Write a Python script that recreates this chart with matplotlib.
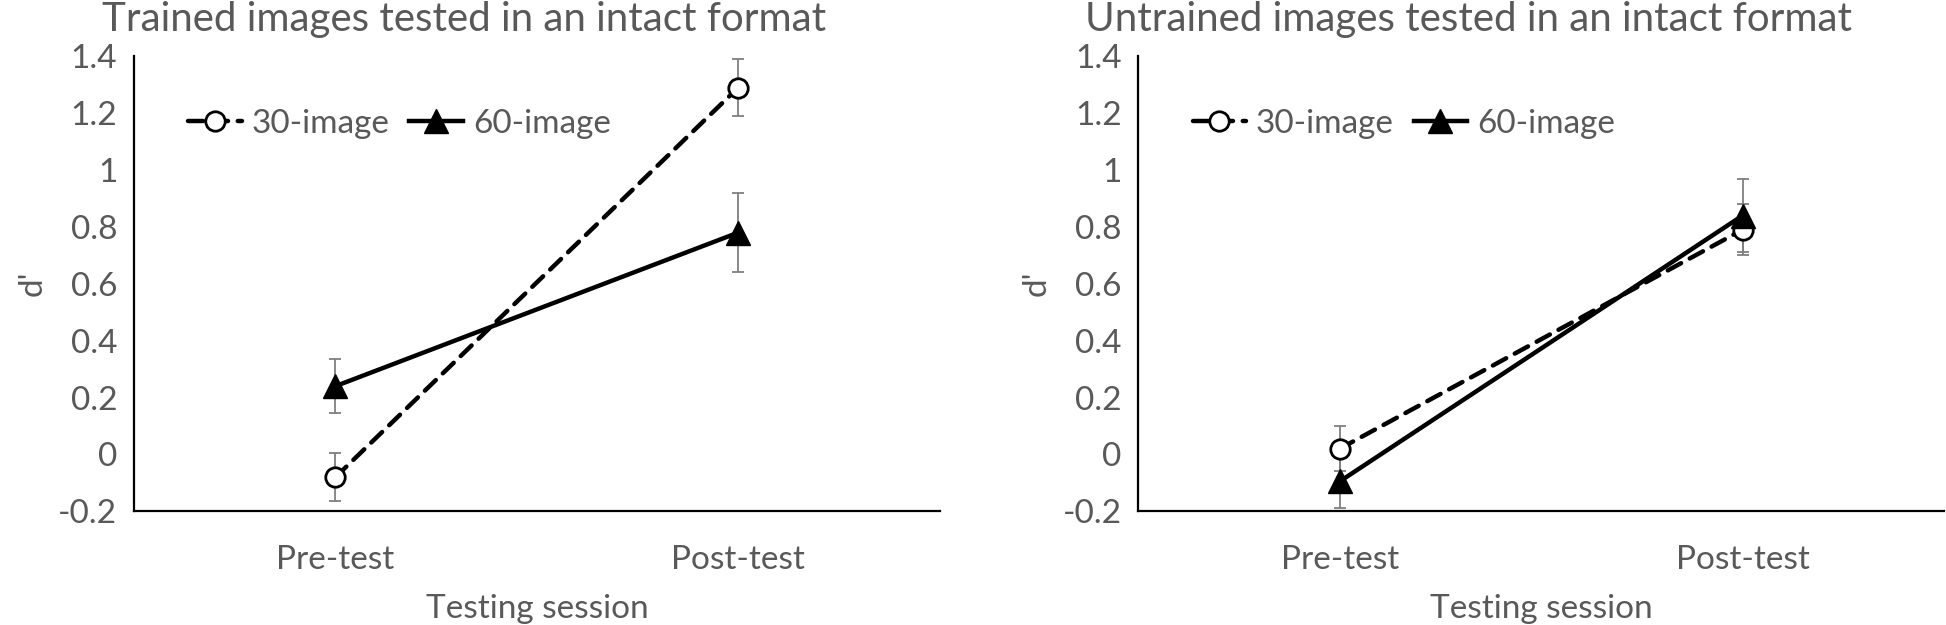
import matplotlib
matplotlib.use("Agg")
import matplotlib.pyplot as plt

plt.rcParams['font.family'] = ['Lato', 'DejaVu Sans']

# data
sessions = ["Pre-test", "Post-test"]
series = ["30-image", "60-image"]

trained_30 = [-0.08, 1.29]
trained_30_err = [0.085, 0.10]
trained_60 = [0.24, 0.78]
trained_60_err = [0.095, 0.14]

untrained_30 = [0.02, 0.79]
untrained_30_err = [0.08, 0.09]
untrained_60 = [-0.095, 0.84]
untrained_60_err = [0.095, 0.13]

titles = ["Trained images tested in an intact format",
          "Untrained images tested in an intact format"]

TXT = '#595959'
ERR = '#7f7f7f'

fig = plt.figure(figsize=(19.46, 6.25), dpi=100)
ax1 = fig.add_axes([0.0689, 0.182, 0.414, 0.728])
ax2 = fig.add_axes([0.585, 0.182, 0.414, 0.728])

panels = [
    (ax1, trained_30, trained_30_err, trained_60, trained_60_err, titles[0]),
    (ax2, untrained_30, untrained_30_err, untrained_60, untrained_60_err, titles[1]),
]

x = [0, 1]
for ax, y30, e30, y60, e60, title in panels:
    ax.errorbar(x, y30, yerr=e30, fmt='none', ecolor=ERR, elinewidth=1.3,
                capsize=4, capthick=1.3, zorder=2)
    ax.errorbar(x, y60, yerr=e60, fmt='none', ecolor=ERR, elinewidth=1.3,
                capsize=4, capthick=1.3, zorder=2)
    ax.plot(x, y30, color='black', lw=3.2, dashes=(3.4, 2.2),
            dash_capstyle='round', marker='o', markersize=14,
            markerfacecolor='white', markeredgecolor='black',
            markeredgewidth=2, label=series[0], zorder=3)
    ax.plot(x, y60, color='black', lw=3.2, marker='^', markersize=17,
            markerfacecolor='black', markeredgecolor='black',
            label=series[1], zorder=3)

    ax.set_xlim(-0.5, 1.5)
    ax.set_ylim(-0.2, 1.4)
    ax.set_yticks([-0.2, 0, 0.2, 0.4, 0.6, 0.8, 1.0, 1.2, 1.4])
    ax.set_yticklabels(['-0.2', '0', '0.2', '0.4', '0.6', '0.8', '1', '1.2', '1.4'])
    ax.set_xticks(x)
    ax.set_xticklabels(sessions)
    ax.tick_params(axis='both', length=0, labelsize=24, labelcolor=TXT)
    ax.tick_params(axis='x', pad=24)
    ax.tick_params(axis='y', pad=12)

    for s in ['top', 'right']:
        ax.spines[s].set_visible(False)
    for s in ['left', 'bottom']:
        ax.spines[s].set_linewidth(1.6)
        ax.spines[s].set_color('black')

    ax.set_xlabel("Testing session", fontsize=24, color=TXT, labelpad=14)
    ax.set_ylabel("d'", fontsize=24, color=TXT, labelpad=8)
    ax.set_title(title, fontsize=29, color=TXT, x=0.41, y=1.0, pad=18)

    leg = ax.legend(loc='upper left', bbox_to_anchor=(0.03, 0.95), ncol=2,
                    frameon=False, fontsize=24, handlelength=1.6,
                    handletextpad=0.3, columnspacing=0.6, labelcolor=TXT)

fig.savefig("out.png", dpi=100)
